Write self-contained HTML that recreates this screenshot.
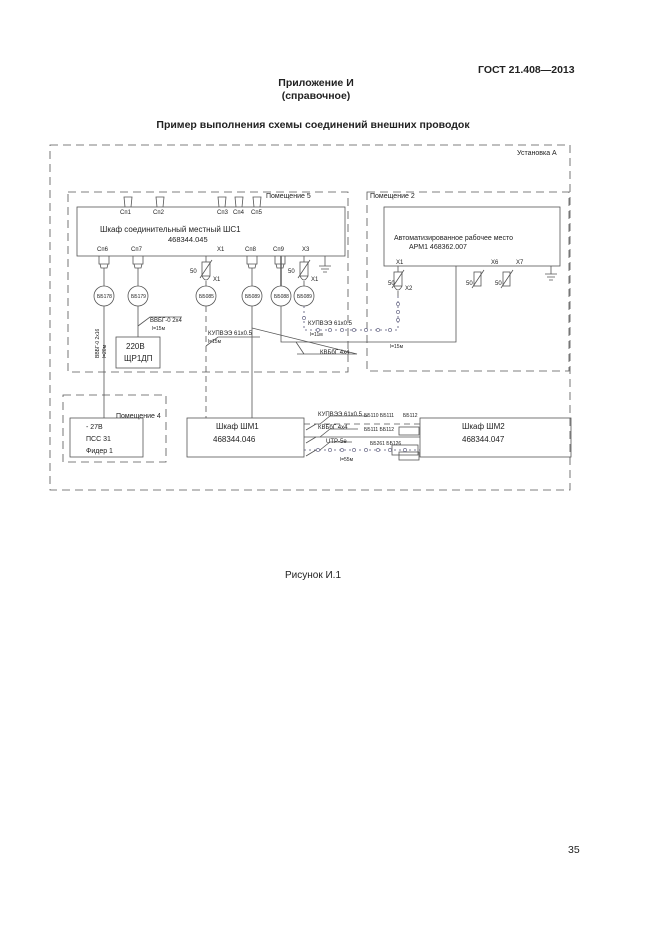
<!DOCTYPE html>
<html><head><meta charset="utf-8"><style>
html,body{margin:0;padding:0;background:#fff}
svg{display:block}
text{font-family:"Liberation Sans",sans-serif;fill:#222}
.s{font-size:6px;fill:#444}
</style></head><body>
<svg width="661" height="936" viewBox="0 0 661 936" xmlns="http://www.w3.org/2000/svg">
<text x="478" y="73" font-size="10.5" font-weight="bold">ГОСТ 21.408—2013</text>
<text x="316" y="86" font-size="10.5" font-weight="bold" text-anchor="middle">Приложение И</text>
<text x="316" y="99" font-size="10.5" font-weight="bold" text-anchor="middle">(справочное)</text>
<text x="313" y="128" font-size="10.5" font-weight="bold" text-anchor="middle">Пример выполнения схемы соединений внешних проводок</text>
<text x="313" y="578" font-size="10" text-anchor="middle">Рисунок И.1</text>
<text x="568" y="853" font-size="10.5">35</text>

<g fill="none" stroke="#555" stroke-width="0.8">
<rect x="50" y="145" width="520" height="345" stroke-dasharray="8,5"/>
<rect x="68" y="192" width="280" height="180" stroke-dasharray="8,5"/>
<rect x="367" y="192" width="202" height="179" stroke-dasharray="8,5"/>
<rect x="63" y="395" width="103" height="67" stroke-dasharray="8,5"/>
<rect x="77" y="207" width="268" height="49"/>
<rect x="384" y="207" width="176" height="59"/>
<rect x="116" y="337" width="44" height="31"/>
<rect x="70" y="418" width="73" height="39"/>
<rect x="187" y="418" width="117" height="39"/>
<rect x="420" y="418" width="151" height="39"/>
<!-- top connectors -->
<path d="M125,207 l-1,-10 h8 l-1,10 M157,207 l-1,-10 h8 l-1,10 M219,207 l-1,-10 h8 l-1,10 M236,207 l-1,-10 h8 l-1,10 M254,207 l-1,-10 h8 l-1,10"/>
<!-- bottom connectors -->
<path d="M99,256 v8 h10 v-8 M100,264 l1,4 h6 l1,-4 M133,256 v8 h10 v-8 M134,264 l1,4 h6 l1,-4 M247,256 v8 h10 v-8 M248,264 l1,4 h6 l1,-4 M275,256 v8 h10 v-8 M276,264 l1,4 h6 l1,-4"/>
<!-- vertical lines -->
<path d="M104,268 v18 M104,306 v112 M138,268 v18 M138,306 v31 M252,268 v18 M252,306 v112"/>
<path d="M281,256 v30" stroke-width="1.4"/>
<path d="M206,306 v112" stroke-dasharray="6,4"/>
<path d="M206,256 v6 M304,256 v6 M398,266 v6"/>
<rect x="202" y="262" width="8" height="14"/>
<rect x="300" y="262" width="8" height="14"/>
<rect x="394" y="272" width="8" height="14"/>
<rect x="474" y="272" width="7" height="14"/>
<rect x="503" y="272" width="7" height="14"/>
<path d="M200,278 l12,-18 M298,278 l12,-18 M392,288 l12,-18 M472,288 l12,-18 M501,288 l12,-18"/>
<path d="M202,276 q4,8 8,0 M300,276 q4,8 8,0 M394,286 q4,8 8,0"/>
<path d="M206,281 v5 M304,281 v5 M398,291 v5"/>
<circle cx="104" cy="296" r="10"/><circle cx="138" cy="296" r="10"/><circle cx="206" cy="296" r="10"/><circle cx="252" cy="296" r="10"/><circle cx="281" cy="296" r="10"/><circle cx="304" cy="296" r="10"/>
<!-- grounds -->
<path d="M325,256 v10 M319,266 h12 M321,269 h8 M323,272 h4 M551,266 v8 M545,274 h12 M547,277 h8 M549,280 h4"/>
<!-- cable lines -->
<path d="M281,306 v36 h175 v-76"/>
<path d="M252,328 l105,26 h-60 M296,342 l8,12 M138,326 l12,-9 h32 M206,346 l12,-9 h42"/>
<path d="M304,306 v24 h94 v-34" stroke="#557" stroke-dasharray="2,3"/>
<path d="M304,424 h116" stroke-dasharray="6,4"/>
<path d="M304,437 h116"/>
<path d="M304,450 h116" stroke="#557" stroke-dasharray="2,3"/>
<path d="M306,430 l10,-6 M306,443 l10,-6 M306,456 l10,-6 M320,424 l10,-8 h38 M320,437 l10,-8 h28 M320,450 l10,-8 h22"/>
<rect x="399" y="427" width="20" height="8"/>
<rect x="399" y="452" width="20" height="8"/>
<rect x="392" y="445" width="26" height="10"/>
</g>
<g fill="#fff" stroke="#557" stroke-width="0.6">
<circle cx="318" cy="330" r="1.6"/><circle cx="330" cy="330" r="1.6"/><circle cx="342" cy="330" r="1.6"/><circle cx="354" cy="330" r="1.6"/><circle cx="366" cy="330" r="1.6"/><circle cx="378" cy="330" r="1.6"/><circle cx="390" cy="330" r="1.6"/>
<circle cx="304" cy="318" r="1.6"/><circle cx="398" cy="304" r="1.6"/><circle cx="398" cy="312" r="1.6"/><circle cx="398" cy="320" r="1.6"/>
<circle cx="318" cy="450" r="1.6"/><circle cx="330" cy="450" r="1.6"/><circle cx="342" cy="450" r="1.6"/><circle cx="354" cy="450" r="1.6"/><circle cx="366" cy="450" r="1.6"/><circle cx="378" cy="450" r="1.6"/><circle cx="390" cy="450" r="1.6"/><circle cx="405" cy="450" r="1.6"/>
</g>
<g class="s">
<text x="120" y="214">Сп1</text><text x="153" y="214">Сп2</text><text x="217" y="214">Сп3</text><text x="233" y="214">Сп4</text><text x="251" y="214">Сп5</text>
<text x="266" y="198" font-size="7">Помещение 5</text>
<text x="370" y="198" font-size="7">Помещение 2</text>
<text x="517" y="155" font-size="7">Установка А</text>
<text x="116" y="418" font-size="7">Помещение 4</text>
<text x="97" y="251">Сп6</text><text x="131" y="251">Сп7</text><text x="217" y="251">Х1</text><text x="245" y="251">Сп8</text><text x="273" y="251">Сп9</text><text x="302" y="251">Х3</text>
<text x="396" y="264">Х1</text><text x="491" y="264">Х6</text><text x="516" y="264">Х7</text>
<text x="190" y="273">50</text><text x="288" y="273">50</text><text x="388" y="285">50</text><text x="466" y="285">50</text><text x="495" y="285">50</text>
<text x="213" y="281">Х1</text><text x="311" y="281">Х1</text><text x="405" y="290">Х2</text>
<g font-size="5"><text x="97" y="298">ББ178</text><text x="131" y="298">ББ179</text><text x="199" y="298">ББ085</text><text x="245" y="298">ББ089</text><text x="274" y="298">ББ088</text><text x="297" y="298">ББ089</text></g>
<text x="150" y="322">ВВБГ-0 2х4</text><text x="152" y="330" font-size="5">l=15м</text>
<text x="208" y="335">КУПВЭЭ 61х0.5</text><text x="208" y="343" font-size="5">l=15м</text>
<text x="308" y="325">КУПВЭЭ 61х0.5</text><text x="310" y="336" font-size="5">l=11м</text>
<text x="320" y="354">КВБбГ 4х4</text><text x="390" y="348" font-size="5">l=15м</text>
<text x="318" y="416">КУПВЭЭ 61х0.5</text><text x="318" y="429">КВБбГ 4х4</text><text x="326" y="443">UTP-5e</text>
<text x="364" y="417" font-size="5">ББ110 ББ111</text><text x="403" y="417" font-size="5">ББ112</text>
<text x="364" y="431" font-size="5">ББ111 ББ112</text><text x="370" y="445" font-size="5">ББ261 ББ126</text><text x="340" y="461" font-size="5">l=55м</text>
<text transform="translate(99,358) rotate(-90)" font-size="5">ВВБГ-0 2х16</text>
<text transform="translate(106,358) rotate(-90)" font-size="5">l=20м</text>
</g>
<g font-size="8">
<text x="100" y="232">Шкаф  соединительный  местный  ШС1</text>
<text x="168" y="242" font-size="7.5">468344.045</text>
<text x="394" y="240" font-size="7">Автоматизированное  рабочее место</text>
<text x="409" y="249" font-size="7">АРМ1 468362.007</text>
<text x="126" y="349">220В</text><text x="124" y="361">ЩР1ДП</text>
<text x="86" y="429" font-size="7">- 27В</text><text x="86" y="441" font-size="7">ПСС 31</text><text x="86" y="453" font-size="7">Фидер 1</text>
<text x="216" y="429">Шкаф ШМ1</text><text x="213" y="442">468344.046</text>
<text x="462" y="429">Шкаф ШМ2</text><text x="462" y="442">468344.047</text>
</g>
</svg>
</body></html>
